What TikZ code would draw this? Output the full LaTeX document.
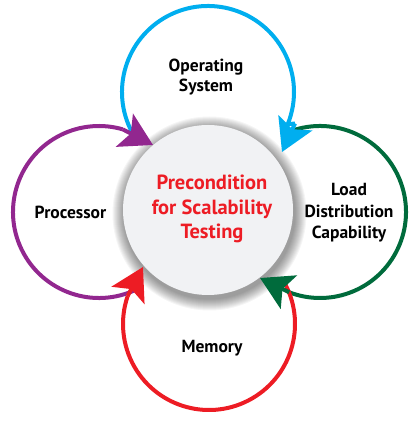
\documentclass[tikz,border=0pt]{standalone}
\usepackage{fontspec}
\setmainfont{PT Sans}
\usetikzlibrary{arrows.meta,calc}
\definecolor{cblue}{HTML}{00AEEF}
\definecolor{cpurple}{HTML}{92278F}
\definecolor{cgreen}{HTML}{006B3C}
\definecolor{cred}{HTML}{ED1C24}
\definecolor{cfill}{HTML}{F1F2F4}
\tikzset{
  ring/.style={line width=4pt},
  tipline/.style={line width=4pt, -{Stealth[length=32pt, width=37pt, inset=7pt]}},
  label/.style={font=\bfseries\fontsize{17.5}{20.5}\selectfont, align=center, text=black},
  titletext/.style={font=\bfseries\fontsize{20.5}{24.5}\selectfont, align=center, text=cred},
}
\begin{document}
\begin{tikzpicture}[x=1pt,y=1pt]
\useasboundingbox (0,0) rectangle (417,425);
% soft shadow of the centre circle
\foreach \r in {97,96,...,86} \fill[black,opacity=0.04] (209.5,211.5) circle (\r);
\node[circle, fill=cfill, minimum size=170pt, inner sep=0pt] (main) at (208,215) {};
\node[titletext] (title) at (212,216) {Precondition\\for Scalability\\Testing};
% named coordinates of the ring ends
\coordinate (bS) at ($(208,333)+(208:86)$);
\coordinate (bE) at ($(208,333)+(-22:86)$);
\coordinate (bB) at (295,301.5);
\coordinate (bT) at (282,273);
\coordinate (gS) at ($(320,213)+(110:86)$);
\coordinate (gE) at ($(320,213)+(-111:86)$);
\coordinate (gT) at (260,147);
\coordinate (rS) at ($(209,101)+(30:86)$);
\coordinate (rE) at ($(209,101)+(161:86)$);
\coordinate (rT) at (143,158);
\coordinate (pS) at ($(99,213)+(-64:86)$);
\coordinate (pE) at ($(99,213)+(74:86)$);
\coordinate (pT) at (153,280);
% rings
\draw[ring, cblue] (bS) arc[start angle=208, end angle=-22, radius=86] -- (bB);
\draw[ring, cgreen] (gS) arc[start angle=110, end angle=-111, radius=86];
\draw[ring, cred] (rS) arc[start angle=30, end angle=-199, radius=86];
\draw[ring, cpurple] (pS) arc[start angle=-64, end angle=-286, radius=86];
% arrow heads
\draw[tipline, cblue] (bB) -- (bT);
\draw[tipline, cgreen] (gE) -- (gT);
\draw[tipline, cred] (rE) -- (rT);
\draw[tipline, cpurple] (pE) -- (pT);
% labels
\node[label] (os) at (206,348) {Operating\\System};
\node[label] (proc) at (70.5,213) {Processor};
\node[label, font=\bfseries\fontsize{17.5}{21.5}\selectfont] (load) at (349,212) {Load\\Distribution\\Capability};
\node[label] (mem) at (212,77) {Memory};
\end{tikzpicture}
\end{document}
